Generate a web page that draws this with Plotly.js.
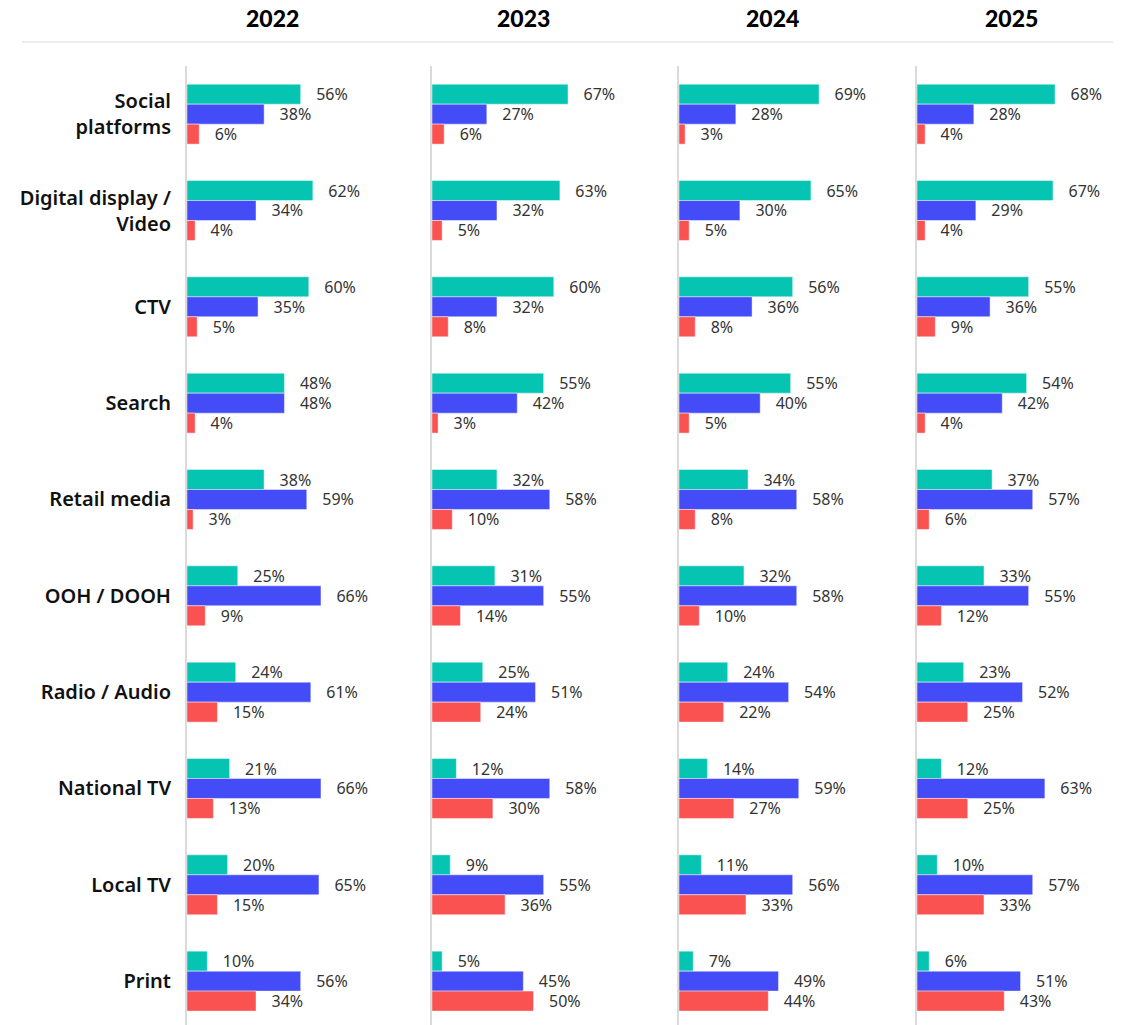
<!DOCTYPE html>
<html>
<head>
<meta charset="utf-8">
<script src="https://cdn.plot.ly/plotly-3.0.1.min.js"></script>
<style>
  html, body { margin: 0; padding: 0; background: #fff; }
  #chart { width: 1121px; height: 1025px; }
</style>
</head>
<body>
<div id="chart"></div>
<script>
// channel shares per year, three series per channel (teal / blue / red)

var categories = ['Social<br>platforms', 'Digital display /<br>Video', 'CTV', 'Search', 'Retail media',
  'OOH / DOOH', 'Radio / Audio', 'National TV', 'Local TV', 'Print'];
var years = ['2022', '2023', '2024', '2025'];

var teal2022 = [56, 62, 60, 48, 38, 25, 24, 21, 20, 10];
var blue2022 = [38, 34, 35, 48, 59, 66, 61, 66, 65, 56];
var red2022  = [6, 4, 5, 4, 3, 9, 15, 13, 15, 34];

var teal2023 = [67, 63, 60, 55, 32, 31, 25, 12, 9, 5];
var blue2023 = [27, 32, 32, 42, 58, 55, 51, 58, 55, 45];
var red2023  = [6, 5, 8, 3, 10, 14, 24, 30, 36, 50];

var teal2024 = [69, 65, 56, 55, 34, 32, 24, 14, 11, 7];
var blue2024 = [28, 30, 36, 40, 58, 58, 54, 59, 56, 49];
var red2024  = [3, 5, 8, 5, 8, 10, 22, 27, 33, 44];

var teal2025 = [68, 67, 55, 54, 37, 33, 23, 12, 10, 6];
var blue2025 = [28, 29, 36, 42, 57, 55, 52, 63, 57, 51];
var red2025  = [4, 4, 9, 4, 6, 12, 25, 25, 33, 43];

var seriesByYear = [
  [teal2022, blue2022, red2022],
  [teal2023, blue2023, red2023],
  [teal2024, blue2024, red2024],
  [teal2025, blue2025, red2025]
];
var seriesNames = ['Teal', 'Blue', 'Red'];
var colors = ['#05c4b1', '#434cf7', '#fa5151'];

// layout geometry (pixels)
var W = 1121, H = 1025, TOP = 66;
var panelLeft = [187, 432, 679, 917];
var headerX = [272, 523, 772, 1011];
var panelW = 200;
var pxPerPct = 2.03;

var font = '"Noto Sans", "Open Sans", sans-serif';
var headFont = 'Lato, "Noto Sans", sans-serif';

var data = [];
for (var p = 0; p < years.length; p++) {
  var ax = p === 0 ? '' : String(p + 1);
  for (var s = 0; s < 3; s++) {
    data.push({
      type: 'bar',
      orientation: 'h',
      name: seriesNames[s],
      x: seriesByYear[p][s],
      y: categories,
      xaxis: 'x' + ax,
      yaxis: 'y' + ax,
      marker: { color: colors[s], line: { color: 'rgba(255,255,255,0.45)', width: 1 } },
      texttemplate: '\u00a0\u00a0\u00a0%{x}%',
      textposition: 'outside',
      textfont: { family: font, size: 16, color: '#333' },
      constraintext: 'none',
      cliponaxis: false,
      hoverinfo: 'none',
      showlegend: false
    });
  }
}

var layout = {
  width: W,
  height: H,
  margin: { l: 0, r: 0, t: TOP, b: 0 },
  paper_bgcolor: '#fff',
  plot_bgcolor: '#fff',
  barmode: 'group',
  bargap: 0.378,
  bargroupgap: 0,
  font: { family: font, color: '#111' },
  annotations: [],
  shapes: [{
    type: 'line', xref: 'paper', yref: 'paper',
    x0: 22 / W, x1: 1113 / W,
    y0: 1 + (TOP - 42) / (H - TOP), y1: 1 + (TOP - 42) / (H - TOP),
    line: { color: '#ececec', width: 2 }
  }]
};

for (var i = 0; i < years.length; i++) {
  var k = i === 0 ? '' : String(i + 1);
  layout['xaxis' + k] = {
    domain: [panelLeft[i] / W, (panelLeft[i] + panelW) / W],
    range: [0, panelW / pxPerPct],
    showgrid: false, zeroline: false, showline: false,
    showticklabels: false, ticks: '',
    anchor: 'y' + k, fixedrange: true
  };
  layout['yaxis' + k] = {
    type: 'category',
    categoryarray: categories,
    range: [-0.5 + (H - TOP) / 96.33, -0.5],
    anchor: 'x' + k,
    showgrid: false, zeroline: false,
    showline: true, linecolor: '#dadada', linewidth: 2,
    ticks: '',
    showticklabels: i === 0,
    ticklabelstandoff: 10,
    tickfont: { family: font, size: 20, color: '#111', weight: 600 },
    automargin: false,
    fixedrange: true
  };
  layout.annotations.push({
    text: years[i],
    xref: 'paper', yref: 'paper',
    x: headerX[i] / W, y: 1 + (TOP - 18) / (H - TOP),
    xanchor: 'center', yanchor: 'middle',
    showarrow: false,
    font: { family: headFont, size: 23, color: '#000', weight: 900 }
  });
}

Plotly.newPlot('chart', data, layout, { displayModeBar: false, staticPlot: true });
</script>
</body>
</html>
